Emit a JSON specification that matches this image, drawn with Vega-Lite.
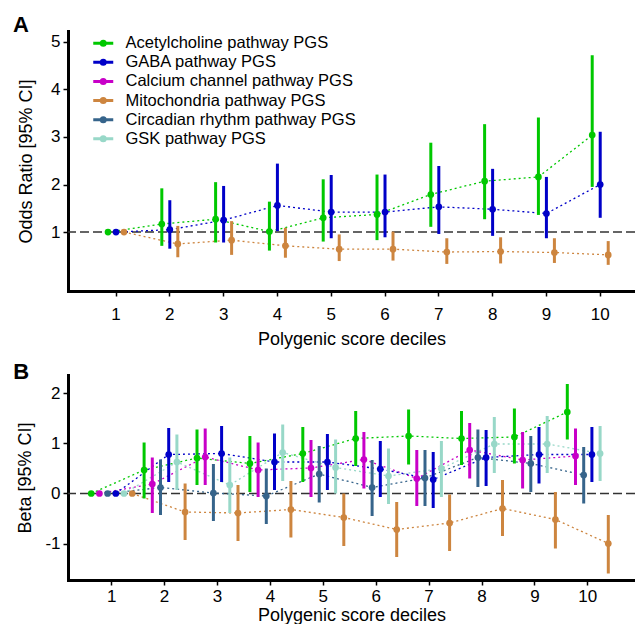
{
  "$schema": "https://vega.github.io/schema/vega-lite/v6.json",
  "background": "white",
  "padding": {"left": 13, "top": 14, "right": 0, "bottom": 0},
  "config": {
    "view": {"stroke": null},
    "font": "Liberation Sans",
    "axis": {"grid": false, "domainColor": "black", "domainWidth": 3, "domainCap": "square", "tickColor": "black", "tickWidth": 1.5, "tickSize": 5, "labelFont": "Liberation Sans", "labelFontSize": 17, "labelColor": "black", "titleFont": "Liberation Sans", "titleFontSize": 18, "titleFontWeight": "normal", "titleColor": "black", "labelFlush": false, "labelOverlap": false, "labelAngle": 0},
    "title": {"font": "Liberation Sans", "fontSize": 22, "fontWeight": "bold", "anchor": "start", "frame": "bounds", "color": "black", "baseline": "alphabetic"}
  },
  "datasets": {
    "A": [
      {"decile": 1, "pathway": "Acetylcholine", "est": 1, "lo": 1, "hi": 1},
      {"decile": 2, "pathway": "Acetylcholine", "est": 1.17, "lo": 0.71, "hi": 1.92},
      {"decile": 3, "pathway": "Acetylcholine", "est": 1.27, "lo": 0.78, "hi": 2.05},
      {"decile": 4, "pathway": "Acetylcholine", "est": 1.01, "lo": 0.61, "hi": 1.64},
      {"decile": 5, "pathway": "Acetylcholine", "est": 1.30, "lo": 0.80, "hi": 2.11},
      {"decile": 6, "pathway": "Acetylcholine", "est": 1.37, "lo": 0.83, "hi": 2.21},
      {"decile": 7, "pathway": "Acetylcholine", "est": 1.79, "lo": 1.11, "hi": 2.88},
      {"decile": 8, "pathway": "Acetylcholine", "est": 2.07, "lo": 1.27, "hi": 3.27},
      {"decile": 9, "pathway": "Acetylcholine", "est": 2.16, "lo": 1.36, "hi": 3.41},
      {"decile": 10, "pathway": "Acetylcholine", "est": 3.04, "lo": 1.95, "hi": 4.72},
      {"decile": 1, "pathway": "GABA", "est": 1, "lo": 1, "hi": 1},
      {"decile": 2, "pathway": "GABA", "est": 1.05, "lo": 0.65, "hi": 1.67},
      {"decile": 3, "pathway": "GABA", "est": 1.25, "lo": 0.78, "hi": 1.97},
      {"decile": 4, "pathway": "GABA", "est": 1.56, "lo": 1.02, "hi": 2.44},
      {"decile": 5, "pathway": "GABA", "est": 1.42, "lo": 0.87, "hi": 2.20},
      {"decile": 6, "pathway": "GABA", "est": 1.42, "lo": 0.89, "hi": 2.21},
      {"decile": 7, "pathway": "GABA", "est": 1.53, "lo": 0.96, "hi": 2.39},
      {"decile": 8, "pathway": "GABA", "est": 1.48, "lo": 0.92, "hi": 2.33},
      {"decile": 9, "pathway": "GABA", "est": 1.39, "lo": 0.87, "hi": 2.16},
      {"decile": 10, "pathway": "GABA", "est": 2.00, "lo": 1.30, "hi": 3.11},
      {"decile": 1, "pathway": "Mitochondria", "est": 1, "lo": 1, "hi": 1},
      {"decile": 2, "pathway": "Mitochondria", "est": 0.75, "lo": 0.47, "hi": 1.13},
      {"decile": 3, "pathway": "Mitochondria", "est": 0.83, "lo": 0.52, "hi": 1.23},
      {"decile": 4, "pathway": "Mitochondria", "est": 0.71, "lo": 0.46, "hi": 1.09},
      {"decile": 5, "pathway": "Mitochondria", "est": 0.64, "lo": 0.39, "hi": 0.95},
      {"decile": 6, "pathway": "Mitochondria", "est": 0.64, "lo": 0.40, "hi": 1.01},
      {"decile": 7, "pathway": "Mitochondria", "est": 0.58, "lo": 0.33, "hi": 0.87},
      {"decile": 8, "pathway": "Mitochondria", "est": 0.59, "lo": 0.34, "hi": 0.89},
      {"decile": 9, "pathway": "Mitochondria", "est": 0.57, "lo": 0.35, "hi": 0.87},
      {"decile": 10, "pathway": "Mitochondria", "est": 0.52, "lo": 0.31, "hi": 0.81}
    ],
    "B": [
      {"decile": 1, "pathway": "Acetylcholine", "est": 0, "lo": 0, "hi": 0},
      {"decile": 2, "pathway": "Acetylcholine", "est": 0.47, "lo": -0.10, "hi": 1.02},
      {"decile": 3, "pathway": "Acetylcholine", "est": 0.71, "lo": 0.17, "hi": 1.28},
      {"decile": 4, "pathway": "Acetylcholine", "est": 0.60, "lo": 0.03, "hi": 1.15},
      {"decile": 5, "pathway": "Acetylcholine", "est": 0.80, "lo": 0.23, "hi": 1.33},
      {"decile": 6, "pathway": "Acetylcholine", "est": 1.10, "lo": 0.55, "hi": 1.65},
      {"decile": 7, "pathway": "Acetylcholine", "est": 1.15, "lo": 0.58, "hi": 1.68},
      {"decile": 8, "pathway": "Acetylcholine", "est": 1.10, "lo": 0.57, "hi": 1.65},
      {"decile": 9, "pathway": "Acetylcholine", "est": 1.13, "lo": 0.60, "hi": 1.70},
      {"decile": 10, "pathway": "Acetylcholine", "est": 1.63, "lo": 1.08, "hi": 2.19},
      {"decile": 1, "pathway": "Calcium channel", "est": 0, "lo": 0, "hi": 0},
      {"decile": 2, "pathway": "Calcium channel", "est": 0.19, "lo": -0.39, "hi": 0.72},
      {"decile": 3, "pathway": "Calcium channel", "est": 0.73, "lo": 0.17, "hi": 1.30},
      {"decile": 4, "pathway": "Calcium channel", "est": 0.47, "lo": -0.07, "hi": 1.02},
      {"decile": 5, "pathway": "Calcium channel", "est": 0.51, "lo": -0.07, "hi": 1.07},
      {"decile": 6, "pathway": "Calcium channel", "est": 0.68, "lo": 0.10, "hi": 1.23},
      {"decile": 7, "pathway": "Calcium channel", "est": 0.30, "lo": -0.25, "hi": 0.87},
      {"decile": 8, "pathway": "Calcium channel", "est": 0.87, "lo": 0.30, "hi": 1.41},
      {"decile": 9, "pathway": "Calcium channel", "est": 0.67, "lo": 0.10, "hi": 1.23},
      {"decile": 10, "pathway": "Calcium channel", "est": 0.75, "lo": 0.17, "hi": 1.30},
      {"decile": 1, "pathway": "Circadian rhythm", "est": 0, "lo": 0, "hi": 0},
      {"decile": 2, "pathway": "Circadian rhythm", "est": 0.12, "lo": -0.43, "hi": 0.68},
      {"decile": 3, "pathway": "Circadian rhythm", "est": 0.01, "lo": -0.55, "hi": 0.59},
      {"decile": 4, "pathway": "Circadian rhythm", "est": -0.05, "lo": -0.61, "hi": 0.50},
      {"decile": 5, "pathway": "Circadian rhythm", "est": 0.39, "lo": -0.18, "hi": 0.95},
      {"decile": 6, "pathway": "Circadian rhythm", "est": 0.12, "lo": -0.45, "hi": 0.67},
      {"decile": 7, "pathway": "Circadian rhythm", "est": 0.31, "lo": -0.25, "hi": 0.87},
      {"decile": 8, "pathway": "Circadian rhythm", "est": 0.72, "lo": 0.13, "hi": 1.28},
      {"decile": 9, "pathway": "Circadian rhythm", "est": 0.60, "lo": 0.03, "hi": 1.15},
      {"decile": 10, "pathway": "Circadian rhythm", "est": 0.37, "lo": -0.20, "hi": 0.93},
      {"decile": 1, "pathway": "GABA", "est": 0, "lo": 0, "hi": 0},
      {"decile": 2, "pathway": "GABA", "est": 0.78, "lo": 0.23, "hi": 1.31},
      {"decile": 3, "pathway": "GABA", "est": 0.80, "lo": 0.23, "hi": 1.35},
      {"decile": 4, "pathway": "GABA", "est": 0.63, "lo": 0.07, "hi": 1.20},
      {"decile": 5, "pathway": "GABA", "est": 0.63, "lo": 0.07, "hi": 1.19},
      {"decile": 6, "pathway": "GABA", "est": 0.49, "lo": -0.07, "hi": 1.05},
      {"decile": 7, "pathway": "GABA", "est": 0.28, "lo": -0.29, "hi": 0.83},
      {"decile": 8, "pathway": "GABA", "est": 0.72, "lo": 0.15, "hi": 1.27},
      {"decile": 9, "pathway": "GABA", "est": 0.78, "lo": 0.20, "hi": 1.33},
      {"decile": 10, "pathway": "GABA", "est": 0.78, "lo": 0.23, "hi": 1.33},
      {"decile": 1, "pathway": "GSK", "est": 0, "lo": 0, "hi": 0},
      {"decile": 2, "pathway": "GSK", "est": 0.63, "lo": 0.07, "hi": 1.18},
      {"decile": 3, "pathway": "GSK", "est": 0.17, "lo": -0.39, "hi": 0.72},
      {"decile": 4, "pathway": "GSK", "est": 0.82, "lo": 0.25, "hi": 1.38},
      {"decile": 5, "pathway": "GSK", "est": 0.52, "lo": 0.00, "hi": 1.08},
      {"decile": 6, "pathway": "GSK", "est": 0.35, "lo": -0.21, "hi": 0.90},
      {"decile": 7, "pathway": "GSK", "est": 0.50, "lo": -0.07, "hi": 1.05},
      {"decile": 8, "pathway": "GSK", "est": 0.99, "lo": 0.41, "hi": 1.53},
      {"decile": 9, "pathway": "GSK", "est": 0.99, "lo": 0.41, "hi": 1.55},
      {"decile": 10, "pathway": "GSK", "est": 0.80, "lo": 0.25, "hi": 1.35},
      {"decile": 1, "pathway": "Mitochondria", "est": 0, "lo": 0, "hi": 0},
      {"decile": 2, "pathway": "Mitochondria", "est": -0.37, "lo": -0.93, "hi": 0.20},
      {"decile": 3, "pathway": "Mitochondria", "est": -0.39, "lo": -0.95, "hi": 0.17},
      {"decile": 4, "pathway": "Mitochondria", "est": -0.32, "lo": -0.88, "hi": 0.25},
      {"decile": 5, "pathway": "Mitochondria", "est": -0.48, "lo": -1.05, "hi": 0.00},
      {"decile": 6, "pathway": "Mitochondria", "est": -0.72, "lo": -1.27, "hi": -0.17},
      {"decile": 7, "pathway": "Mitochondria", "est": -0.59, "lo": -1.15, "hi": -0.02},
      {"decile": 8, "pathway": "Mitochondria", "est": -0.30, "lo": -0.85, "hi": 0.27},
      {"decile": 9, "pathway": "Mitochondria", "est": -0.52, "lo": -1.10, "hi": 0.03},
      {"decile": 10, "pathway": "Mitochondria", "est": -1.00, "lo": -1.60, "hi": -0.43}
    ]
  },
  "columns": 1,
  "spacing": 13,
  "resolve": {"scale": {"color": "independent", "xOffset": "independent", "x": "independent", "y": "independent"}, "legend": {"color": "independent"}},
  "concat": [
    {
      "width": 567,
      "height": 260,
      "title": {"text": "A", "dx": -4, "offset": -6},
      "data": {"name": "A"},
      "layer": [
        {
          "data": {"values": [{"ref": 1}]},
          "mark": {"type": "rule", "strokeDash": [9, 4], "strokeWidth": 1.5, "color": "#333333"},
          "encoding": {"y": {"field": "ref", "type": "quantitative"}}
        },
        {
          "mark": {"type": "line", "strokeDash": [2, 3], "strokeWidth": 1.3},
          "encoding": {
            "x": {"field": "decile", "type": "ordinal", "scale": {"type": "band", "paddingInner": 0, "paddingOuter": 0.2695, "align": 0.728}, "axis": {"title": "Polygenic score deciles", "labelPadding": 10, "titlePadding": 8}},
            "xOffset": {"field": "pathway", "type": "nominal", "scale": {"type": "point", "domain": ["Acetylcholine", "GABA", "Mitochondria"], "range": [18.9, 34.9], "padding": 0}},
            "y": {"field": "est", "type": "quantitative", "scale": {"domain": [-0.24, 5.23], "nice": false, "zero": false}, "axis": {"values": [1, 2, 3, 4, 5], "title": "Odds Ratio [95% CI]", "labelPadding": 3, "titlePadding": 15.5}},
            "color": {"field": "pathway", "type": "nominal",
              "scale": {"domain": ["Acetylcholine", "GABA", "Calcium channel", "Mitochondria", "Circadian rhythm", "GSK"], "range": ["#00c800", "#0000c8", "#c800c8", "#cd853f", "#36648b", "#98d8c8"]},
              "legend": {"orient": "none", "legendX": 27, "legendY": 4, "title": null, "padding": 0, "symbolType": "M-2,0L2,0M0.4,0A0.4,0.4,0,1,1,-0.4,0A0.4,0.4,0,1,1,0.4,0", "symbolSize": 100, "symbolStrokeWidth": 3, "labelFont": "Liberation Sans", "labelFontSize": 16.5, "labelColor": "black", "labelOffset": 14, "labelLimit": 0, "rowPadding": 2.1, "labelExpr": "datum.label + ' pathway PGS'"}}
          }
        },
        {
          "mark": {"type": "rule", "strokeWidth": 3},
          "encoding": {
            "x": {"field": "decile", "type": "ordinal"},
            "xOffset": {"field": "pathway", "type": "nominal"},
            "y": {"field": "lo", "type": "quantitative"},
            "y2": {"field": "hi"},
            "color": {"field": "pathway", "type": "nominal", "legend": null}
          }
        },
        {
          "mark": {"type": "point", "filled": true, "size": 45, "opacity": 1},
          "encoding": {
            "x": {"field": "decile", "type": "ordinal"},
            "xOffset": {"field": "pathway", "type": "nominal"},
            "y": {"field": "est", "type": "quantitative"},
            "color": {"field": "pathway", "type": "nominal", "legend": null}
          }
        }
      ]
    },
    {
      "width": 567,
      "height": 205,
      "title": {"text": "B", "dx": -3, "offset": -9},
      "data": {"name": "B"},
      "layer": [
        {
          "data": {"values": [{"ref": 0}]},
          "mark": {"type": "rule", "strokeDash": [9, 4], "strokeWidth": 1.5, "color": "#333333"},
          "encoding": {"y": {"field": "ref", "type": "quantitative"}}
        },
        {
          "mark": {"type": "line", "strokeDash": [2, 3], "strokeWidth": 1.3},
          "encoding": {
            "x": {"field": "decile", "type": "ordinal", "scale": {"type": "band", "paddingInner": 0, "paddingOuter": 0.3592, "align": 0.454}, "axis": {"title": "Polygenic score deciles", "labelPadding": 3, "titlePadding": 2}},
            "xOffset": {"field": "pathway", "type": "nominal", "scale": {"type": "point", "domain": ["Acetylcholine", "Calcium channel", "Circadian rhythm", "GABA", "GSK", "Mitochondria"], "range": [5.95, 46.95], "padding": 0}},
            "y": {"field": "est", "type": "quantitative", "scale": {"domain": [-1.73, 2.37], "nice": false, "zero": false}, "axis": {"values": [-1, 0, 1, 2], "labelExpr": "'' + datum.value", "title": "Beta [95% CI]", "labelPadding": 3, "titlePadding": 10.7}},
            "color": {"field": "pathway", "type": "nominal",
              "scale": {"domain": ["Acetylcholine", "GABA", "Calcium channel", "Mitochondria", "Circadian rhythm", "GSK"], "range": ["#00c800", "#0000c8", "#c800c8", "#cd853f", "#36648b", "#98d8c8"]},
              "legend": null}
          }
        },
        {
          "mark": {"type": "rule", "strokeWidth": 3},
          "encoding": {
            "x": {"field": "decile", "type": "ordinal"},
            "xOffset": {"field": "pathway", "type": "nominal"},
            "y": {"field": "lo", "type": "quantitative"},
            "y2": {"field": "hi"},
            "color": {"field": "pathway", "type": "nominal", "legend": null}
          }
        },
        {
          "mark": {"type": "point", "filled": true, "size": 45, "opacity": 1},
          "encoding": {
            "x": {"field": "decile", "type": "ordinal"},
            "xOffset": {"field": "pathway", "type": "nominal"},
            "y": {"field": "est", "type": "quantitative"},
            "color": {"field": "pathway", "type": "nominal", "legend": null}
          }
        }
      ]
    }
  ]
}
